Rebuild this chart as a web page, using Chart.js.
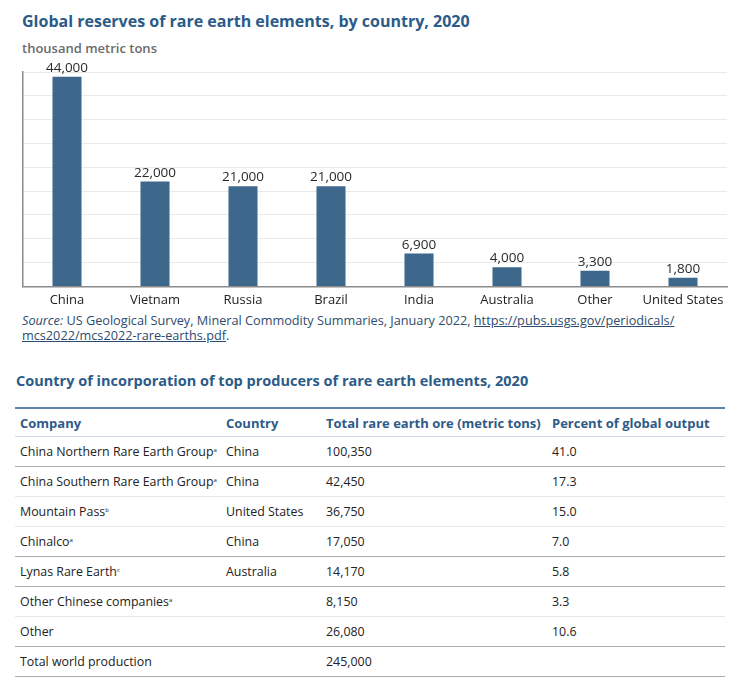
<!DOCTYPE html>
<html>
<head>
<meta charset="utf-8">
<script src="https://cdn.jsdelivr.net/npm/chart.js@4"></script>
<style>
  body { margin: 0; width: 743px; height: 683px; background: #fff; font-family: "Open Sans", sans-serif; position: relative; overflow: hidden; }
  .abs { position: absolute; white-space: nowrap; }
  #title { left: 22px; top: 10px; font-size: 16px; font-weight: 700; color: #2b5b88; }
  #subtitle { left: 22px; top: 39px; font-size: 13px; font-weight: 600; color: #6b6b6b; }
  #wrap { left: 0; top: 60px; width: 743px; height: 246px; }
  #source { left: 22px; top: 313px; font-size: 12.7px; line-height: 15px; color: #2d4b6e; }
  #source a { color: #2d4b6e; }
  #title2 { left: 16px; top: 371px; font-size: 14.5px; font-weight: 700; color: #2b5b88; }
  table { position: absolute; left: 15px; top: 407px; width: 710px; border-collapse: collapse; table-layout: fixed; font-size: 12.4px; color: #222; }
  th { text-align: left; color: #2e5b87; font-weight: 700; font-size: 13px; height: 27px; padding: 0 0 0 5px; border-top: 2px solid #5f84a8; border-bottom: 1px solid #cdd7e1; white-space: nowrap; overflow: visible; }
  td { height: 29px; padding: 0 0 0 5px; border-bottom: 1px solid #e3e7eb; white-space: nowrap; }
  tr.dk td { border-bottom: 1px solid #a7adb4; }
  sup { font-size: 6px; vertical-align: 4px; }
</style>
</head>
<body>
<div id="title" class="abs">Global reserves of rare earth elements, by country, 2020</div>
<div id="subtitle" class="abs">thousand metric tons</div>
<div id="wrap" class="abs"><canvas id="myChart"></canvas></div>
<div id="source" class="abs"><i>Source:</i> US Geological Survey, Mineral Commodity Summaries, January 2022, <a href="#">https://pubs.usgs.gov/periodicals/</a><br><a href="#">mcs2022/mcs2022-rare-earths.pdf</a>.</div>
<div id="title2" class="abs">Country of incorporation of top producers of rare earth elements, 2020</div>
<table id="tbl"></table>

<script>
// bar chart data
const countries = ['China', 'Vietnam', 'Russia', 'Brazil', 'India', 'Australia', 'Other', 'United States'];
const reserves = [44000, 22000, 21000, 21000, 6900, 4000, 3300, 1800];

// table data
const headers = ['Company', 'Country', 'Total rare earth ore (metric tons)', 'Percent of global output'];
const companies = ['China Northern Rare Earth Group', 'China Southern Rare Earth Group', 'Mountain Pass', 'Chinalco', 'Lynas Rare Earth', 'Other Chinese companies', 'Other', 'Total world production'];
const notes = ['a', 'a', 'b', 'a', 'c', 'a', '', ''];
const companyCountry = ['China', 'China', 'United States', 'China', 'Australia', '', '', ''];
const ore = ['100,350', '42,450', '36,750', '17,050', '14,170', '8,150', '26,080', '245,000'];
const percent = ['41.0', '17.3', '15.0', '7.0', '5.8', '3.3', '10.6', ''];
const darkRows = [0, 3, 4, 6, 7];

// build table
const tbl = document.getElementById('tbl');
const colW = [206, 100, 226, 178];
let html = '<colgroup>' + colW.map(w => '<col style="width:' + w + 'px">').join('') + '</colgroup>';
html += '<tr>' + headers.map(h => '<th>' + h + '</th>').join('') + '</tr>';
companies.forEach((c, i) => {
  html += '<tr' + (darkRows.includes(i) ? ' class="dk"' : '') + '>' +
    '<td>' + c + (notes[i] ? '<sup>' + notes[i] + '</sup>' : '') + '</td>' +
    '<td>' + companyCountry[i] + '</td>' +
    '<td>' + ore[i] + '</td>' +
    '<td>' + percent[i] + '</td></tr>';
});
tbl.innerHTML = html;

// value labels above bars
const valueLabels = {
  id: 'valueLabels',
  afterDatasetsDraw(chart) {
    const c = chart.ctx;
    c.save();
    c.font = '13.5px "Open Sans"';
    c.fillStyle = '#2a2a2a';
    c.textAlign = 'center';
    c.textBaseline = 'bottom';
    chart.getDatasetMeta(0).data.forEach((bar, i) => {
      c.fillText(reserves[i].toLocaleString('en-US'), bar.x, bar.y - 2);
    });
    c.restore();
  }
};

const ctx = document.getElementById('myChart');
new Chart(ctx, {
  type: 'bar',
  data: {
    labels: countries,
    datasets: [{
      data: reserves,
      backgroundColor: '#3e678c',
      barPercentage: 0.33,
      categoryPercentage: 1
    }]
  },
  plugins: [valueLabels],
  options: {
    responsive: true,
    maintainAspectRatio: false,
    animation: false,
    layout: { padding: { left: 23, top: 12, right: 16, bottom: 0 } },
    plugins: { legend: { display: false }, tooltip: { enabled: false } },
    scales: {
      x: {
        grid: { display: false },
        border: { color: '#8a8a8a', width: 1.5 },
        ticks: { color: '#222', font: { family: 'Open Sans', size: 13 }, padding: -2, maxRotation: 0, autoSkip: false }
      },
      y: {
        min: 0,
        max: 45000,
        ticks: { display: false, stepSize: 5000 },
        grid: { color: '#e9e9e9', drawTicks: false },
        border: { color: '#8a8a8a', width: 1.5 }
      }
    }
  }
});
</script>
</body>
</html>
